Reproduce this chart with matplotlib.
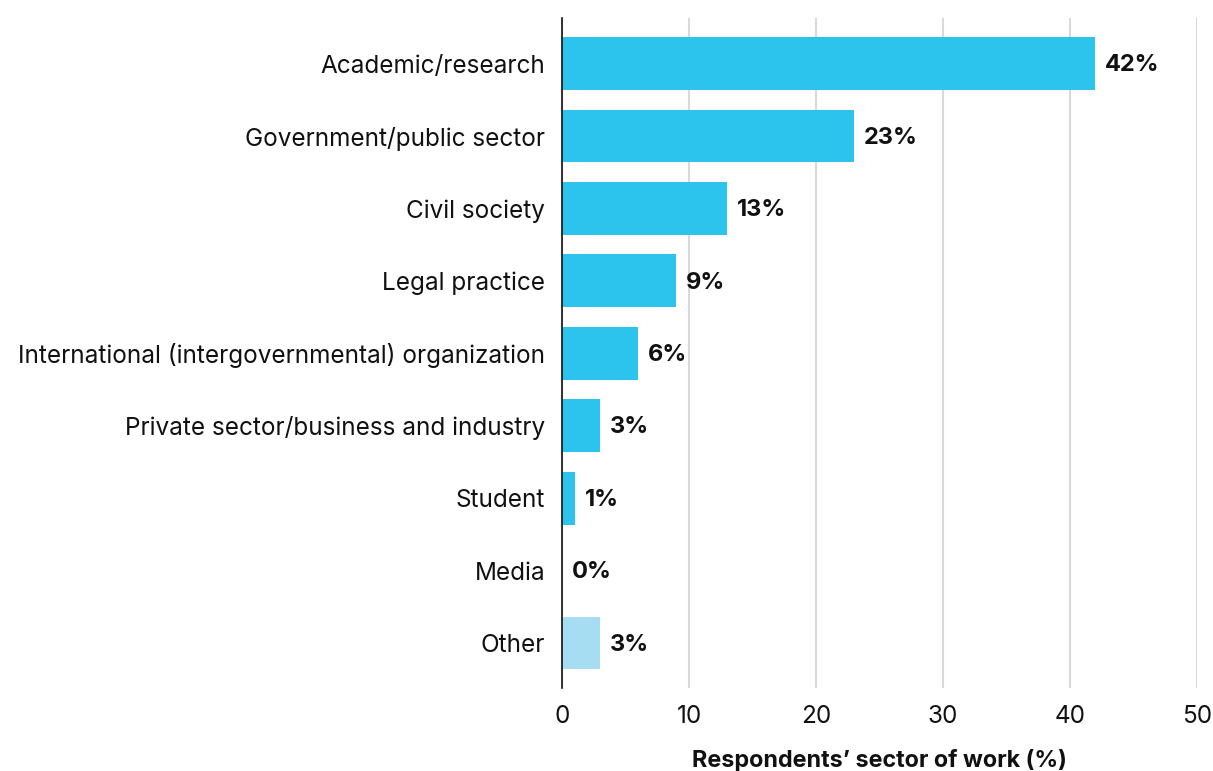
import matplotlib
matplotlib.use("Agg")
import matplotlib.pyplot as plt

categories = [
    "Academic/research",
    "Government/public sector",
    "Civil society",
    "Legal practice",
    "International (intergovernmental) organization",
    "Private sector/business and industry",
    "Student",
    "Media",
    "Other",
]
values = [42, 23, 13, 9, 6, 3, 1, 0, 3]
colors = ["#2cc3ec"] * 8 + ["#a6ddf2"]
xticks = [0, 10, 20, 30, 40, 50]

plt.rcParams["font.family"] = ["Inter", "DejaVu Sans"]

fig = plt.figure(figsize=(12.13, 7.71), dpi=100)
ax = fig.add_axes([0.4633, 0.1077, 0.5235, 0.869])

ypos = list(range(len(categories)))
ax.barh(ypos, values, height=0.73, color=colors, zorder=3)

for y, v in zip(ypos, values):
    ax.annotate(f"{v}%", (v, y), xytext=(7, -1.2), textcoords="offset points",
                ha="left", va="center", fontsize=17, fontweight="bold",
                color="#111111", zorder=4)

ax.set_xlim(0, 50)
ax.set_ylim(8.62, -0.63)
ax.set_yticks(ypos)
ax.set_yticklabels(categories, fontsize=17.5, color="#111111")
ax.set_xticks(xticks)
ax.set_xticklabels([str(t) for t in xticks], fontsize=17.5, color="#111111")
ax.tick_params(axis="both", length=0)
ax.tick_params(axis="y", pad=12)
ax.tick_params(axis="x", pad=12)

ax.xaxis.grid(True, color="#d9d9d9", linewidth=1.5, zorder=0)
ax.set_axisbelow(True)
for side in ["top", "right", "bottom"]:
    ax.spines[side].set_visible(False)
ax.spines["left"].set_color("#111111")
ax.spines["left"].set_linewidth(1.2)
ax.spines["left"].set_zorder(5)

fig.text(0.7251, 11 / 771, "Respondents\u2019 sector of work (%)", fontsize=16.8,
         fontweight="bold", color="#111111", ha="center", va="center")

fig.savefig("out.png", dpi=100)
